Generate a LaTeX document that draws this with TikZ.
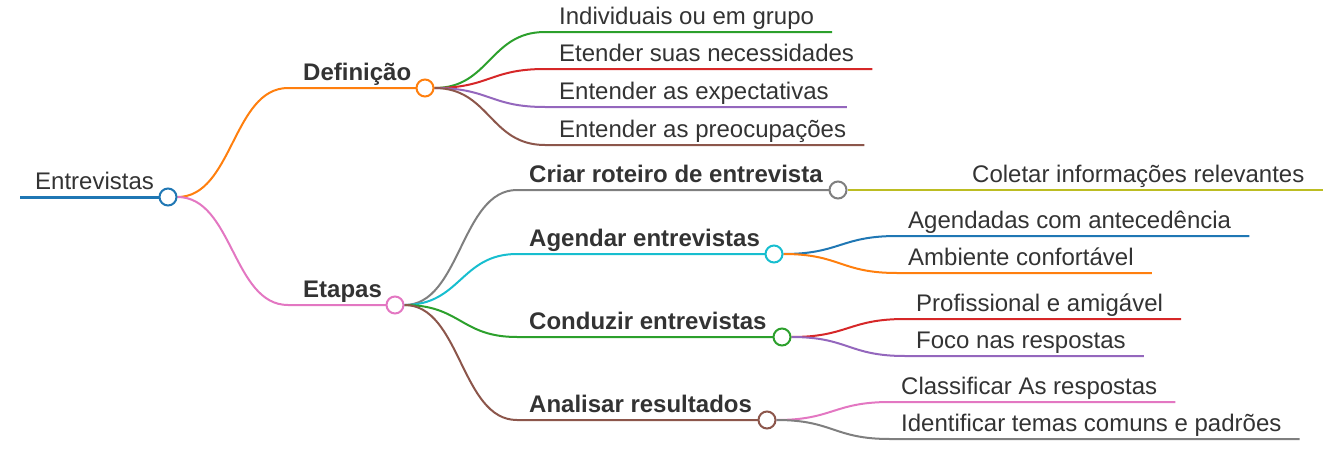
\documentclass[tikz,border=0pt]{standalone}
\usepackage{fontspec}
\setmainfont{Liberation Sans}
\usetikzlibrary{calc}
\definecolor{cBlue}{HTML}{1F77B4}
\definecolor{cOrange}{HTML}{FF7F0E}
\definecolor{cGreen}{HTML}{2CA02C}
\definecolor{cRed}{HTML}{D62728}
\definecolor{cPurple}{HTML}{9467BD}
\definecolor{cBrown}{HTML}{8C564B}
\definecolor{cPink}{HTML}{E377C2}
\definecolor{cGray}{HTML}{7F7F7F}
\definecolor{cOlive}{HTML}{BCBD22}
\definecolor{cCyan}{HTML}{17BECF}
\definecolor{txtc}{HTML}{333333}
\pgfdeclarelayer{bg}
\pgfsetlayers{bg,main}
\begin{document}
\begin{tikzpicture}[x=1pt,y=-1pt,
  txt/.style={font=\fontsize{24}{28}\selectfont, text=txtc, inner sep=0pt, anchor=base west},
  btxt/.style={txt, font=\fontsize{24}{28}\selectfont\bfseries},
  dot/.style={circle, draw=#1, fill=white, line width=2pt, minimum size=17pt, inner sep=0pt},
  conn/.style={draw=#1, line width=2pt},
  curvy/.style={to path={let \p1=(\tikztostart), \p2=(\tikztotarget) in .. controls ({(\x1+\x2)/2},\y1) and ({(\x1+\x2)/2},\y2) .. (\tikztotarget)}},
]
\useasboundingbox (0,0) rectangle (1333,463);

% root
\coordinate (rootS) at (20,197);
\node[dot=cBlue] (root) at (168,197) {};
\node[txt] (troot) at (35,189) {Entrevistas};

% level 1
\coordinate (defL) at (288,88);
\node[dot=cOrange] (def) at (425,88) {};
\node[btxt] (tdef) at (303,80) {Definição};

\coordinate (etaL) at (288,305);
\node[dot=cPink] (eta) at (395,305) {};
\node[btxt] (teta) at (303,297) {Etapas};

% Definicao children
\coordinate (d1L) at (545,32);
\node[txt] (td1) at (559,24) {Individuais ou em grupo};
\coordinate (d2L) at (545,69);
\node[txt] (td2) at (559,61) {Etender suas necessidades};
\coordinate (d3L) at (545,107);
\node[txt] (td3) at (559,99) {Entender as expectativas};
\coordinate (d4L) at (545,145);
\node[txt] (td4) at (559,137) {Entender as preocupações};

% Etapas children
\coordinate (criarL) at (517,190);
\node[dot=cGray] (criar) at (838,190) {};
\node[btxt] (tcriar) at (529,182) {Criar roteiro de entrevista};

\coordinate (agenL) at (517,254);
\node[dot=cCyan] (agen) at (774,254) {};
\node[btxt] (tagen) at (529,246) {Agendar entrevistas};

\coordinate (condL) at (517,337);
\node[dot=cGreen] (cond) at (782,337) {};
\node[btxt] (tcond) at (529,329) {Conduzir entrevistas};

\coordinate (analL) at (517,420);
\node[dot=cBrown] (anal) at (767,420) {};
\node[btxt] (tanal) at (529,412) {Analisar resultados};

% grandchildren
\coordinate (g1L) at (960,190);
\node[txt] (tg1) at (972,182) {Coletar informações relevantes};
\coordinate (g2L) at (897,236);
\node[txt] (tg2) at (908,228) {Agendadas com antecedência};
\coordinate (g3L) at (897,273);
\node[txt] (tg3) at (908,265) {Ambiente confortável};
\coordinate (g4L) at (905,319);
\node[txt] (tg4) at (916,311) {Profissional e amigável};
\coordinate (g5L) at (905,356);
\node[txt] (tg5) at (916,348) {Foco nas respostas};
\coordinate (g6L) at (890,402);
\node[txt] (tg6) at (901,394) {Classificar As respostas};
\coordinate (g7L) at (890,439);
\node[txt] (tg7) at (901,431) {Identificar temas comuns e padrões};

\begin{pgfonlayer}{bg}
\draw[conn=cBlue, line width=3pt] (rootS) -- (root.center);
\draw[conn=cOrange] (root.east) to[curvy] (defL) -- (def.center);
\draw[conn=cPink] (root.east) to[curvy] (etaL) -- (eta.center);

\draw[conn=cGreen] (def.east) to[curvy] (d1L) -- ($(td1.base east)+(18,8)$);
\draw[conn=cRed] (def.east) to[curvy] (d2L) -- ($(td2.base east)+(18,8)$);
\draw[conn=cPurple] (def.east) to[curvy] (d3L) -- ($(td3.base east)+(18,8)$);
\draw[conn=cBrown] (def.east) to[curvy] (d4L) -- ($(td4.base east)+(18,8)$);

\draw[conn=cGray] (eta.east) to[curvy] (criarL) -- (criar.center);
\draw[conn=cCyan] (eta.east) to[curvy] (agenL) -- (agen.center);
\draw[conn=cGreen] (eta.east) to[curvy] (condL) -- (cond.center);
\draw[conn=cBrown] (eta.east) to[curvy] (analL) -- (anal.center);

\draw[conn=cOlive] (criar.east) to[curvy] (g1L) -- ($(tg1.base east)+(18,8)$);
\draw[conn=cBlue] (agen.east) to[curvy] (g2L) -- ($(tg2.base east)+(18,8)$);
\draw[conn=cOrange] (agen.east) to[curvy] (g3L) -- ($(tg3.base east)+(18,8)$);
\draw[conn=cRed] (cond.east) to[curvy] (g4L) -- ($(tg4.base east)+(18,8)$);
\draw[conn=cPurple] (cond.east) to[curvy] (g5L) -- ($(tg5.base east)+(18,8)$);
\draw[conn=cPink] (anal.east) to[curvy] (g6L) -- ($(tg6.base east)+(18,8)$);
\draw[conn=cGray] (anal.east) to[curvy] (g7L) -- ($(tg7.base east)+(18,8)$);
\end{pgfonlayer}
\end{tikzpicture}
\end{document}
